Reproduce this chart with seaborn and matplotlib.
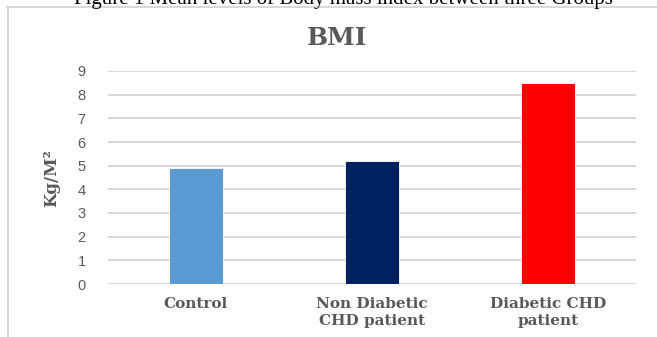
import matplotlib
matplotlib.use("Agg")
import matplotlib.pyplot as plt
from matplotlib.lines import Line2D
import pandas as pd
import seaborn as sns

# Mean BMI per study group
groups = ["Control", "Non Diabetic\nCHD patient", "Diabetic CHD\npatient"]
bmi_means = [4.9, 5.2, 8.5]
bar_colors = ["#5B9BD5", "#002060", "#FF0000"]
y_ticks = list(range(0, 10))

caption = "Figure 1 Mean levels of Body mass index between three Groups"
title = "BMI"
y_label = "Kg/M\u00b2"

sns.set_theme(style="white")
plt.rcParams["font.family"] = ["Liberation Sans", "DejaVu Sans"]

W, H = 657, 337
fig = plt.figure(figsize=(W / 100, H / 100), dpi=100)
fig.patch.set_facecolor("white")

# plot area in pixel coordinates
left, right, top, bottom = 108, 636, 71, 284
ax = fig.add_axes([left / W, 1 - bottom / H, (right - left) / W, (bottom - top) / H])

df = pd.DataFrame({"group": groups, "bmi": bmi_means})
sns.barplot(data=df, x="group", y="bmi", hue="group", palette=bar_colors,
            saturation=1, width=0.31, legend=False, ax=ax,
            edgecolor="white", linewidth=0.6, zorder=3)

ax.set_ylim(0, 9)
ax.set_xlim(-0.5, 2.5)
ax.set_yticks(y_ticks)
ax.grid(axis="y", color="#d9d9d9", linewidth=1.5, zorder=0)
ax.set_axisbelow(True)
for s in ax.spines.values():
    s.set_visible(False)
ax.tick_params(axis="y", length=0, pad=16, labelsize=10.5, labelcolor="#595959")
ax.tick_params(axis="x", length=0, pad=9)
ax.set_xlabel("")
ax.set_ylabel("")
for lbl in ax.get_xticklabels():
    lbl.set_fontfamily("DejaVu Serif")
    lbl.set_fontweight("bold")
    lbl.set_fontsize(11)
    lbl.set_color("#595959")
    lbl.set_linespacing(1.35)

# chart title and axis title
fig.text(337 / W, 1 - 38 / H, title, ha="center", va="center",
         fontfamily="DejaVu Serif", fontweight="bold", fontsize=18, color="#595959")
fig.text(52 / W, 1 - 178 / H, y_label, ha="center", va="center", rotation=90,
         fontfamily="DejaVu Serif", fontweight="bold", fontsize=12, color="#595959")

# figure caption above the chart frame
fig.text(343 / W, 1 - 4 / H, caption, ha="center", va="baseline",
         fontfamily="Liberation Serif", fontsize=15, color="black")

# chart frame (top and left edges)
frame_kw = dict(color="#d9d9d9", linewidth=1.5, transform=fig.transFigure)
fig.add_artist(Line2D([7 / W, 1.0], [1 - 7 / H, 1 - 7 / H], **frame_kw))
fig.add_artist(Line2D([7.5 / W, 7.5 / W], [1 - 7 / H, 0.0], **frame_kw))

fig.savefig("out.png", dpi=100, facecolor="white")
